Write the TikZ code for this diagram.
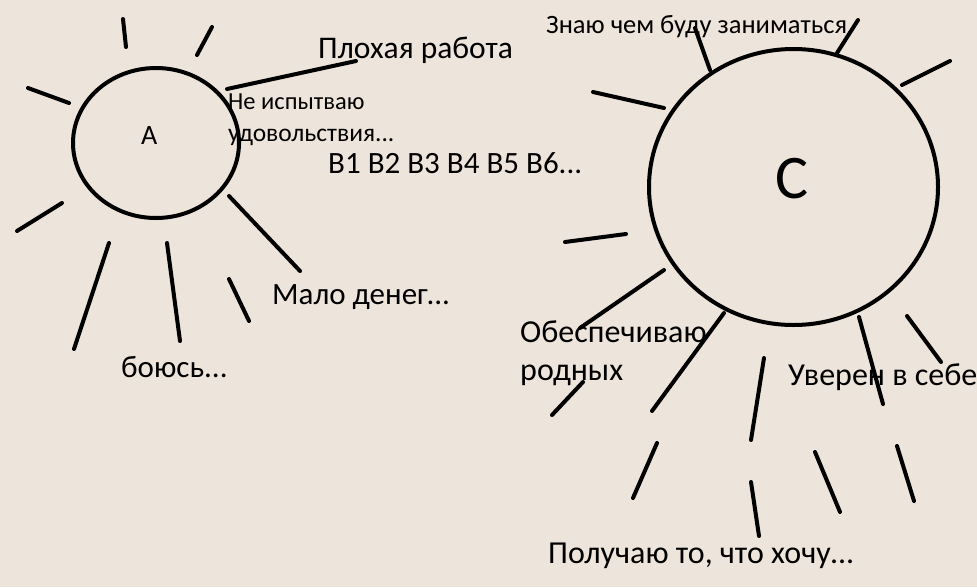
\documentclass[tikz,border=0pt]{standalone}
\usepackage{fontspec}
\setmainfont{Carlito}
\usetikzlibrary{shapes.geometric}
\definecolor{bg}{RGB}{237,228,219}
\tikzset{
  ray/.style={line width=4pt, line cap=round, black},
  sun/.style={draw, ellipse, line width=4pt, inner sep=0pt},
  lbl/.style={anchor=base west, inner sep=0pt, font=\fontsize{#1pt}{#1pt}\selectfont},
}
\begin{document}
\begin{tikzpicture}[x=1pt,y=-1pt]
\fill[bg] (0,0) rectangle (977,587);
\useasboundingbox (0,0) rectangle (977,587);
% Sun A
\node[sun, minimum width=166pt, minimum height=150pt] (A) at (156,143) {};
\node[lbl=28] (Atext) at (141,144) {A};
\draw[ray] (123,19) -- (126,47);
\draw[ray] (212,27) -- (197,55);
\draw[ray] (28,88) -- (69,103);
\draw[ray] (62,203) -- (17,231);
\draw[ray] (109,243) -- (74,349);
\draw[ray] (167,243) -- (180,341);
\draw[ray] (229,279) -- (249,321);
\draw[ray] (229,196) -- (300,271);
\draw[ray] (227,89) -- (356,61);
% Sun C
\node[sun, minimum width=289pt, minimum height=276pt] (C) at (793.5,187) {};
\node[lbl=62] (Ctext) at (775,198) {C};
\draw[ray] (695,28) -- (710,70);
\draw[ray] (858,20) -- (837,53);
\draw[ray] (950,61) -- (902,85);
\draw[ray] (593,92) -- (664,108);
\draw[ray] (565,242) -- (626,234);
\draw[ray] (664,270) -- (580,328);
\draw[ray] (724,313) -- (652,411);
\draw[ray] (583,382) -- (552,415);
\draw[ray] (764,358) -- (751,440);
\draw[ray] (859,317) -- (883,404);
\draw[ray] (907,316) -- (941,362);
\draw[ray] (657,443) -- (633,498);
\draw[ray] (751,482) -- (759,536);
\draw[ray] (815,452) -- (840,512);
\draw[ray] (897,446) -- (914,501);
% Labels
\node[lbl=31.5] (t1) at (318,58) {Плохая работа};
\node[lbl=24.5] (t2) at (228,109) {Не испытваю};
\node[lbl=25.5] (t3) at (228,141) {удовольствия...};
\node[lbl=31] (t4) at (328,173) {B1 B2 B3 B4 B5 B6...};
\node[lbl=31] (t5) at (272,304) {Мало денег...};
\node[lbl=31] (t6) at (121,377) {боюсь...};
\node[lbl=26.5] (t7) at (546,33) {Знаю чем буду заниматься.};
\node[lbl=32] (t8) at (520,342) {Обеспечиваю};
\node[lbl=32] (t9) at (520,380) {родных};
\node[lbl=32] (t10) at (788,385) {Уверен в себе};
\node[lbl=32] (t11) at (548,563) {Получаю то, что хочу...};
\end{tikzpicture}
\end{document}
